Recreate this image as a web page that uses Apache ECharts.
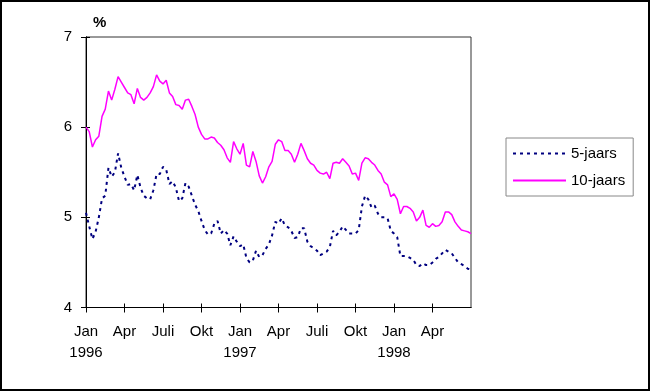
<!DOCTYPE html>
<html>
<head>
<meta charset="utf-8">
<script src="https://cdn.jsdelivr.net/npm/echarts@6/dist/echarts.min.js"></script>
<style>
html,body{margin:0;padding:0;background:#fff;}
#chart{width:651px;height:392px;}
</style>
</head>
<body>
<div id="chart"></div>
<script>
// Tick labels (quarters from Jan 1996), x measured in months since 1 Jan 1996
const tickLabels = ['Jan\n1996','Apr','Juli','Okt','Jan\n1997','Apr','Juli','Okt','Jan\n1998','Apr'];
const tickMonths = [0,3,6,9,12,15,18,21,24,27];
// Weekly readings (every quarter month), Jan 1996 – Jun 1998, in %
const tenYear = [6.00,5.95,5.78,5.86,5.90,6.12,6.20,6.40,6.30,6.42,
  6.56,6.50,6.44,6.38,6.36,6.26,6.43,6.33,6.30,6.33,
  6.38,6.45,6.58,6.51,6.48,6.52,6.38,6.34,6.25,6.24,
  6.20,6.30,6.31,6.23,6.14,6.00,5.92,5.87,5.87,5.89,
  5.88,5.83,5.80,5.75,5.66,5.61,5.84,5.76,5.70,5.82,
  5.58,5.56,5.73,5.62,5.46,5.38,5.45,5.56,5.62,5.81,
  5.86,5.84,5.74,5.74,5.70,5.61,5.70,5.82,5.74,5.65,
  5.60,5.58,5.52,5.49,5.48,5.50,5.43,5.60,5.61,5.60,
  5.65,5.61,5.57,5.48,5.49,5.41,5.60,5.66,5.65,5.61,
  5.58,5.52,5.48,5.39,5.36,5.23,5.26,5.20,5.04,5.12,
  5.12,5.10,5.06,4.96,5.00,5.08,4.91,4.89,4.93,4.90,
  4.91,4.95,5.06,5.06,5.03,4.95,4.90,4.86,4.85,4.84,
  4.82];
const fiveYear = [5.05,4.90,4.76,4.84,5.00,5.21,5.24,5.55,5.45,5.50,
  5.71,5.55,5.45,5.36,5.37,5.30,5.47,5.33,5.24,5.21,
  5.20,5.30,5.48,5.48,5.56,5.53,5.37,5.40,5.33,5.18,
  5.21,5.38,5.34,5.24,5.14,5.07,4.96,4.86,4.81,4.82,
  4.93,4.96,4.82,4.86,4.82,4.69,4.79,4.73,4.68,4.70,
  4.55,4.50,4.52,4.63,4.56,4.58,4.65,4.70,4.80,4.95,
  4.93,4.99,4.91,4.89,4.85,4.77,4.78,4.88,4.88,4.73,
  4.68,4.66,4.63,4.58,4.60,4.62,4.67,4.85,4.80,4.84,
  4.90,4.86,4.82,4.82,4.82,4.86,5.12,5.24,5.20,5.11,
  5.13,5.04,5.00,5.00,4.99,4.85,4.82,4.78,4.57,4.57,
  4.57,4.55,4.53,4.47,4.46,4.49,4.47,4.47,4.50,4.54,
  4.56,4.60,4.64,4.62,4.60,4.55,4.50,4.48,4.46,4.43,
  4.42];
const yTicks = [4,5,6,7];

const weekPos = tenYear.map((_, i) => i / 4);
const pairs = (vals) => vals.map((v, i) => [weekPos[i], v]);

const font = 'Liberation Sans, Arial, Helvetica, sans-serif';
const chart = echarts.init(document.getElementById('chart'), null, {renderer: 'canvas'});
const xBase = {
  type: 'value', min: 0, max: 30, interval: 3, position: 'bottom',
  splitLine: {show: false},
  axisLine: {show: true, onZero: false, lineStyle: {color: '#000', width: 1}}
};
const yBase = {
  type: 'value', min: yTicks[0], max: yTicks[yTicks.length-1], interval: 1, position: 'left',
  splitLine: {show: false},
  axisLine: {show: true, onZero: false, lineStyle: {color: '#000', width: 1}}
};
chart.setOption({
  animation: false,
  backgroundColor: '#fff',
  grid: {left: 86, right: 180, top: 37, bottom: 84.5, show: true, borderColor: '#333', borderWidth: 1, backgroundColor: '#fff'},
  xAxis: [
    Object.assign({}, xBase, {
      axisTick: {show: true, length: 5, customValues: tickMonths, lineStyle: {color: '#000'}},
      axisLabel: {show: true, customValues: tickMonths, margin: 14, color: '#000', fontSize: 15, fontFamily: font, lineHeight: 21,
        formatter: (v) => { const k = tickMonths.indexOf(Math.round(v)); return k >= 0 ? tickLabels[k] : ''; }}
    }),
    Object.assign({}, xBase, {
      axisTick: {show: true, inside: true, length: 4, customValues: tickMonths, lineStyle: {color: '#000'}},
      axisLabel: {show: false}
    })
  ],
  yAxis: [
    Object.assign({}, yBase, {
      axisTick: {show: true, length: 5, lineStyle: {color: '#000'}},
      axisLabel: {show: true, margin: 14, color: '#000', fontSize: 15, fontFamily: font}
    }),
    Object.assign({}, yBase, {
      axisTick: {show: true, inside: true, length: 4, lineStyle: {color: '#000'}},
      axisLabel: {show: false}
    })
  ],
  legend: {
    orient: 'vertical', left: 506, top: 138,
    itemWidth: 53, itemHeight: 14, itemGap: 12,
    padding: [8, 8, 8, 6],
    borderColor: '#888', borderWidth: 1,
    itemStyle: {opacity: 0},
    textStyle: {color: '#000', fontSize: 15, fontFamily: font},
    data: ['5-jaars', '10-jaars']
  },
  graphic: [
    {type: 'text', left: 93, top: 15, style: {text: '%', font: 'bold 15px ' + font, fill: '#000'}},
    {type: 'rect', shape: {x: 1, y: 1, width: 648, height: 389}, style: {fill: 'none', stroke: '#000', lineWidth: 2}, silent: true}
  ],
  series: [
    {name: '5-jaars', type: 'line', data: pairs(fiveYear), symbol: 'none', xAxisIndex: 0, yAxisIndex: 0,
      lineStyle: {color: '#000080', width: 2, type: [3, 4]}, itemStyle: {color: '#000080'}},
    {name: '10-jaars', type: 'line', data: pairs(tenYear), symbol: 'none', xAxisIndex: 0, yAxisIndex: 0,
      lineStyle: {color: '#ff00ff', width: 1.5}, itemStyle: {color: '#ff00ff'}}
  ]
});
</script>
</body>
</html>
